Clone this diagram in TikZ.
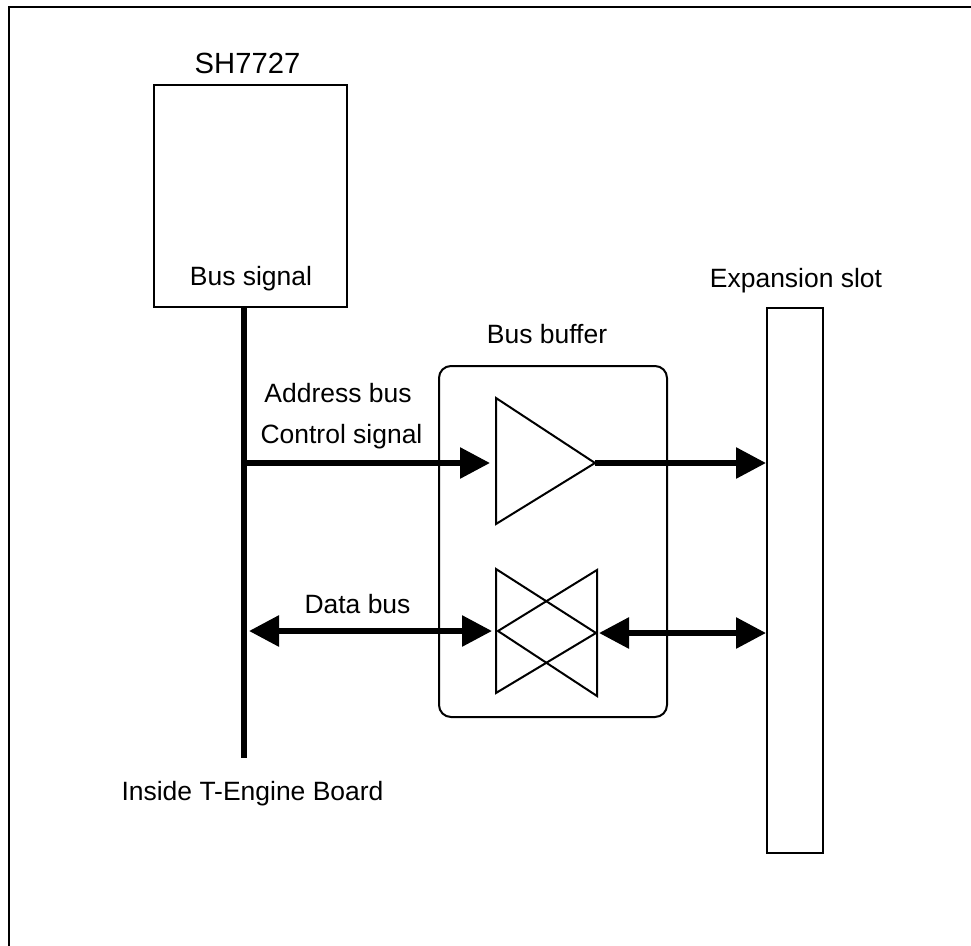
\documentclass[tikz,border=0pt]{standalone}
\usepackage{fontspec}
\setmainfont{Liberation Sans}
\usetikzlibrary{arrows.meta}

\begin{document}
\begin{tikzpicture}[x=0.75pt, y=-0.75pt,
    box/.style={draw, line width=1.5pt, outer sep=0pt, inner sep=0pt},
    label/.style={anchor=base, inner sep=0pt, font=\fontsize{19.85pt}{23pt}\selectfont},
    bigbus/.style={line width=4.4pt},
    busarrow/.style={line width=4.4pt, -{Triangle[length=22.5pt, width=22.5pt]}},
    bothbusarrow/.style={line width=4.4pt,
      {Triangle[length=22.5pt, width=22.5pt]}-{Triangle[length=22.5pt, width=22.5pt]}},
    gate/.style={line width=1.5pt, line join=miter}]
  \useasboundingbox (0, 0) rectangle (971, 946);

  % only the top and left sides of the frame are on the page
  \draw[line width=1.5pt] (971, 7) -- (9, 7) -- (9, 946);

  \node[box, minimum width=144.75pt, minimum height=166.5pt] (chip) at (250.5, 196) {};
  \node[box, minimum width=171pt, minimum height=263.25pt, rounded corners=9pt]
    (buffer) at (553, 541.5) {};
  \node[box, minimum width=42pt, minimum height=408.75pt] (slot) at (795, 580.5) {};

  \node[label, font=\fontsize{21.9pt}{25pt}\selectfont] (chiptitle) at (247.5, 73) {SH7727};
  \node[label] (bussignal) at (251, 285) {Bus signal};
  \node[label] (slottitle) at (796, 287) {Expansion slot};
  \node[label] (buffertitle) at (547, 343) {Bus buffer};
  \node[label] (addressbus) at (338, 402) {Address bus};
  \node[label] (controlsignal) at (341.5, 443) {Control signal};
  \node[label] (databus) at (357.5, 613) {Data bus};
  \node[label] (boardtitle) at (252.5, 800) {Inside T-Engine Board};

  \coordinate (bustop) at (244, 307);
  \coordinate (busend) at (244, 758);
  \coordinate (addrstart) at (244, 463);
  \coordinate (addrtip) at (490, 463);
  \coordinate (datatipl) at (249, 631);
  \coordinate (datatipr) at (492, 631);
  \coordinate (slotaddr) at (766, 463);
  \coordinate (slotdata) at (766, 633);

  % one way buffer
  \coordinate (amptip) at (595, 463);
  \draw[gate] (496, 398) -- (amptip) -- (496, 524) -- cycle;

  % two way buffer
  \coordinate (ampright) at (599, 633);
  \draw[gate] (496, 569) -- (596, 633) -- (496, 693) -- cycle;
  \draw[gate] (597, 570) -- (498, 631) -- (597, 696) -- cycle;

  \draw[bigbus] (bustop) -- (busend);
  \draw[busarrow] (addrstart) -- (addrtip);
  \draw[busarrow] (amptip) -- (slotaddr);
  \draw[bothbusarrow] (datatipl) -- (datatipr);
  \draw[bothbusarrow] (ampright) -- (slotdata);
\end{tikzpicture}
\end{document}
